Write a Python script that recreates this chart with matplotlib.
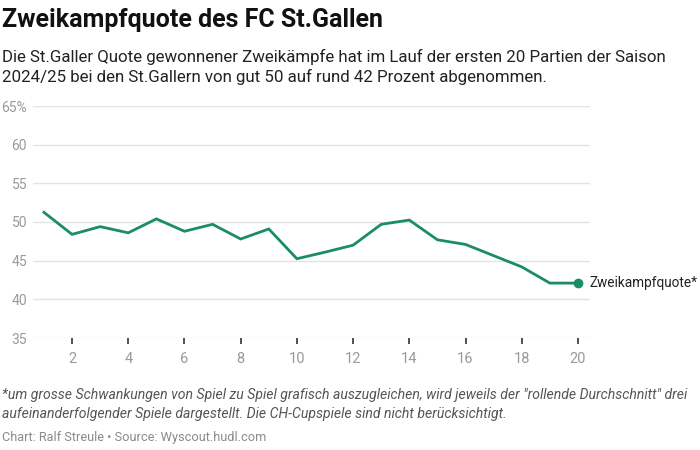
import matplotlib.pyplot as plt

plt.rcParams['font.family'] = ['Roboto', 'DejaVu Sans']

spiele = list(range(1, 21))
quote = [51.25, 48.4, 49.4, 48.6, 50.4, 48.8, 49.7, 47.8, 49.1, 45.25,
         46.1, 47.0, 49.7, 50.25, 47.7, 47.1, 45.65, 44.2, 42.1, 42.1]
yticks = [35, 40, 45, 50, 55, 60, 65]
ylabels = ['35', '40', '45', '50', '55', '60', '65%']
xticks = [2, 4, 6, 8, 10, 12, 14, 16, 18, 20]

green = '#1a8c6c'
grey = '#9a9a9a'

fig = plt.figure(figsize=(7, 4.5), dpi=100)
ax = fig.add_axes([33/700, 1-338/450, (590-33)/700, (338-106)/450])

ax.plot(spiele, quote, color=green, lw=2.0, solid_joinstyle='miter', zorder=3, clip_on=False)
ax.plot(spiele[-1], quote[-1], 'o', color=green, ms=6, zorder=4, clip_on=False)
ax.text(spiele[-1] + 0.42, quote[-1], 'Zweikampfquote*', fontsize=9.8,
        color='#222222', va='center', ha='left')

ax.set_xlim(0.61, 20.43)
ax.set_ylim(35, 65)
ax.set_yticks(yticks)
ax.set_yticklabels(ylabels)
ax.set_xticks(xticks)
ax.grid(axis='y', color='#e3e3e3', lw=1)
ax.set_axisbelow(True)
for s in ax.spines.values():
    s.set_visible(False)
ax.tick_params(axis='y', length=0, labelsize=10, labelcolor=grey, pad=4.3)
ax.tick_params(axis='x', length=4, width=1.2, color='#333333', direction='out',
               labelsize=10.5, labelcolor=grey, pad=6)

fig.text(2/700, 1-20/450, 'Zweikampfquote des FC St.Gallen', fontsize=18,
         fontweight='bold', color='#111111', va='center')
fig.text(2/700, 1-57/450, 'Die St.Galler Quote gewonnener Zweikämpfe hat im Lauf der ersten 20 Partien der Saison',
         fontsize=12.2, color='#222222', va='center')
fig.text(2/700, 1-77/450, '2024/25 bei den St.Gallern von gut 50 auf rund 42 Prozent abgenommen.',
         fontsize=12.2, color='#222222', va='center')
fig.text(2/700, 1-395/450, '*um grosse Schwankungen von Spiel zu Spiel grafisch auszugleichen, wird jeweils der "rollende Durchschnitt" drei',
         fontsize=10.1, style='italic', color='#555555', va='center')
fig.text(2/700, 1-414/450, 'aufeinanderfolgender Spiele dargestellt. Die CH-Cupspiele sind nicht berücksichtigt.',
         fontsize=10.1, style='italic', color='#555555', va='center')
fig.text(2/700, 1-437/450, 'Chart: Ralf Streule • Source: Wyscout.hudl.com',
         fontsize=9.2, color='#8a8a8a', va='center')

fig.savefig('out.png', dpi=100)
